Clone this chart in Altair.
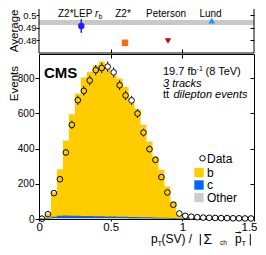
import altair as alt
import numpy as np
import pandas as pd

FONT = "Liberation Sans"

# ---------------- data ----------------
N_BINS = 36
X_MAX = 1.5

data_counts = [2, 27, 147, 226, 378, 535, 675, 728, 787, 846, 858, 866,
               833, 760, 702, 674, 599, 491, 397, 336, 238, 151, 81, 31,
               18, 13, 10, 8, 7, 6, 5, 5, 4, 4, 3, 3]
mc_b = [2, 24, 139, 265, 426, 576, 695, 787, 819, 858, 880, 836,
        801, 785, 738, 649, 614, 525, 430, 347, 273, 178, 95, 23,
        9, 5, 4, 3, 2, 2, 1, 1, 2, 1, 1, 1]
mc_c = [1, 3, 8, 12, 14, 13, 12, 11, 11, 10, 10, 9,
        9, 8, 8, 7, 7, 6, 6, 5, 4, 4, 3, 2,
        1, 1, 1, 1, 1, 1, 1, 1, 0, 0, 0, 0]
mc_other = [2, 3, 5, 6, 6, 6, 6, 6, 6, 6, 5, 5,
            5, 5, 5, 4, 4, 4, 4, 3, 3, 3, 2, 2,
            2, 2, 1, 1, 1, 1, 1, 1, 1, 1, 1, 1]

models = ["Z2*LEP r_b", "Z2*", "Peterson", "Lund"]
model_x = [0.59, 1.2, 1.8, 2.41]
model_avg = [0.4912, 0.4778, 0.4792, 0.4955]
model_err = [0.0055, 0.0, 0.0, 0.0]
model_colors = ["#1f1fff", "#ff6a0d", "#d00000", "#1e90ff"]
model_shapes = ["circle", "square", "triangle-down", "triangle-up"]
data_avg_band = [0.492, 0.496]

main_y_ticks = [0, 200, 400, 600, 800]
main_x_ticks = [0, 0.5, 1, 1.5]
top_y_ticks = [0.48, 0.49, 0.5]

YELLOW = "#ffcc00"
CBLUE = "#0066ff"
GRAY = "#cccccc"

W = 215
H_TOP = 44
H_MAIN = 165

# ---------------- derived tables ----------------
bw = X_MAX / N_BINS
edges = [i * bw for i in range(N_BINS + 1)]
centers = [(i + 0.5) * bw for i in range(N_BINS)]
o = np.array(mc_other, float)
co = o + np.array(mc_c, float)
tot = co + np.array(mc_b, float)
hist = pd.DataFrame({
    "x": edges,
    "o": list(o) + [o[-1]],
    "co": list(co) + [co[-1]],
    "tot": list(tot) + [tot[-1]],
})

n = np.array(data_counts, float)
err = np.sqrt(n)
R = 17.0  # marker radius expressed in events (keeps error bars outside circle)
pts = pd.DataFrame({"x": centers, "n": n, "above": n > tot})
up = pd.DataFrame({"x": centers, "lo": n + R, "hi": n + err, "e": err})
dn = pd.DataFrame({"x": centers, "lo": n - err, "hi": n - R, "e": err})
ebars = pd.concat([up, dn])
ebars = ebars[ebars["e"] > R]

top_df = pd.DataFrame({"model": models, "x": model_x, "y": model_avg,
                       "lo": np.array(model_avg) - np.array(model_err),
                       "hi": np.array(model_avg) + np.array(model_err),
                       "err": model_err})
band_df = pd.DataFrame({"lo": [data_avg_band[0]], "hi": [data_avg_band[1]]})

# ---------------- scales ----------------
xs = alt.Scale(domain=[0, X_MAX], nice=False, zero=False)
ys = alt.Scale(domain=[0, 937.5], nice=False)
xt = alt.Scale(domain=[0, 3], nice=False, zero=False)
yt = alt.Scale(domain=[0.4696, 0.5048], nice=False, zero=False)

one = pd.DataFrame({"a": [0]})


def txt(s, x, y, size, weight="normal", style="normal", align="left"):
    return alt.Chart(pd.DataFrame({"t": [s]})).mark_text(
        align=align, baseline="alphabetic", fontSize=size, fontWeight=weight,
        fontStyle=style, font=FONT, color="black"
    ).encode(x=alt.value(x), y=alt.value(y), text="t:N")


def vrule(x, y1, y2, w=1):
    return alt.Chart(one).mark_rule(color="black", strokeWidth=w).encode(
        x=alt.value(x), y=alt.value(y1), y2=alt.value(y2))


def hrule(y, x1, x2, w=1):
    return alt.Chart(one).mark_rule(color="black", strokeWidth=w).encode(
        y=alt.value(y), x=alt.value(x1), x2=alt.value(x2))


TITLE_KW = dict(titleAnchor="end", titleFontSize=11.5, titleFontWeight="normal",
                titleBaseline="alphabetic", titleX=-22)

# ---------------- top panel ----------------
ax_tl = alt.Axis(orient="left", values=top_y_ticks, format=".2~f", tickSize=3,
                 labelPadding=0, labelFontSize=9.5, domain=False, grid=False,
                 labelFlush=False, labelOverlap=False, title="Average", **TITLE_KW)
ax_tr = alt.Axis(orient="right", values=top_y_ticks, offset=-4, tickSize=4,
                 labels=False, domain=False, grid=False, title=None)
ax_tb = alt.Axis(orient="bottom", values=[1, 2], offset=-4, tickSize=4,
                 labels=False, domain=False, grid=False, title=None)

band = alt.Chart(band_df).mark_rect(color="#c8c8c8").encode(
    x=alt.value(0), x2=alt.value(W),
    y=alt.Y("lo:Q", scale=yt, axis=ax_tl), y2="hi:Q")
top_err = alt.Chart(top_df).transform_filter("datum.err > 0").mark_rule(
    color=model_colors[0], strokeWidth=1.5).encode(
    x=alt.X("x:Q", scale=xt, axis=None), y=alt.Y("lo:Q", scale=yt, axis=None), y2="hi:Q")
top_pts = alt.Chart(top_df).mark_point(filled=True, opacity=1, size=42).encode(
    x=alt.X("x:Q", scale=xt, axis=ax_tb),
    y=alt.Y("y:Q", scale=yt, axis=ax_tr),
    shape=alt.Shape("model:N", scale=alt.Scale(domain=models, range=model_shapes), legend=None),
    color=alt.Color("model:N", scale=alt.Scale(domain=models, range=model_colors), legend=None))

top = alt.layer(
    band, top_err, top_pts,
    txt("Z2*LEP", 19, 8, 10), txt("r", 56, 8, 10, style="italic"), txt("b", 59.5, 10, 7),
    txt("Z2*", 84, 8, 10, align="center"),
    txt("Peterson", 127, 8, 10, align="center"),
    txt("Lund", 171.5, 8, 10, align="center"),
    vrule(0, 0, H_TOP), vrule(W, 0, H_TOP), hrule(H_TOP, 0, W),
).resolve_axis(y="independent", x="independent").properties(
    width=W, height=H_TOP, view=alt.ViewBackground(stroke="transparent"))

# ---------------- main panel ----------------
ax_ml = alt.Axis(orient="left", values=main_y_ticks, tickSize=4, labelPadding=1,
                 labelFontSize=10, domain=False, grid=False,
                 labelFlush=False, labelOverlap=False,
                 title="Events", titleY=11.5, **TITLE_KW)
ax_mb = alt.Axis(orient="bottom", values=main_x_ticks, format="~g", tickSize=2,
                 labelPadding=0, labelFontSize=11.5, domain=False, grid=False,
                 title=None, labelFlush=True, labelFlushOffset=3, labelOverlap=False)
ax_mr = alt.Axis(orient="right", values=main_y_ticks[1:], offset=-4, tickSize=4,
                 labels=False, domain=False, grid=False, title=None)
ax_mt = alt.Axis(orient="top", values=[0.5, 1.0], offset=-4, tickSize=4,
                 labels=False, domain=False, grid=False, title=None)

yellow = alt.Chart(hist).mark_area(interpolate="step-after", color=YELLOW).encode(
    x=alt.X("x:Q", scale=xs, axis=ax_mb), y=alt.Y("tot:Q", scale=ys, axis=ax_ml))
blue = alt.Chart(hist).mark_area(interpolate="step-after", color=CBLUE).encode(
    x=alt.X("x:Q", scale=xs, axis=None), y=alt.Y("co:Q", scale=ys, axis=None))
gray = alt.Chart(hist).mark_area(interpolate="step-after", color=GRAY).encode(
    x=alt.X("x:Q", scale=xs, axis=ax_mt), y=alt.Y("o:Q", scale=ys, axis=ax_mr))

err_rules = alt.Chart(ebars).mark_rule(color="black", strokeWidth=1).encode(
    x=alt.X("x:Q", scale=xs, axis=None), y=alt.Y("lo:Q", scale=ys, axis=None), y2="hi:Q")
circles = alt.Chart(pts).mark_point(shape="circle", filled=True, stroke="black",
                                    strokeWidth=1, size=32, opacity=1).encode(
    x=alt.X("x:Q", scale=xs, axis=None), y=alt.Y("n:Q", scale=ys, axis=None),
    fill=alt.condition(alt.datum.above, alt.value("white"), alt.value("transparent")))

leg_circle = alt.Chart(one).mark_point(shape="circle", filled=False, color="black",
                                       strokeWidth=1, size=30, opacity=1).encode(
    x=alt.value(163.5), y=alt.value(104.3))
leg_boxes = [
    alt.Chart(one).mark_square(color=c, size=88, opacity=1).encode(
        x=alt.value(160), y=alt.value(yy))
    for c, yy in [(YELLOW, 118.5), (CBLUE, 131), (GRAY, 143.5)]
]
arrow_head = alt.Chart(one).mark_point(shape="triangle-right", filled=True, color="black",
                                       size=7, opacity=1).encode(
    x=alt.value(201.5), y=alt.value(178.5))

main = alt.layer(
    yellow, blue, gray, err_rules, circles,
    txt("CMS", 5, 24, 15, weight="bold"),
    txt("19.7 fb", 124, 20.5, 11), txt("-1", 157.6, 16.5, 7), txt("(8 TeV)", 166.5, 20.5, 11),
    txt("3 tracks", 124, 33, 11, style="italic"),
    txt("tt", 124, 44, 11), hrule(34.5, 127.3, 130.5),
    txt("dilepton events", 134.5, 44, 11, style="italic"),
    leg_circle, *leg_boxes,
    txt("Data", 168, 108.5, 12), txt("b", 168, 122.5, 12), txt("c", 168, 135, 12),
    txt("Other", 168, 147.5, 12),
    # x-axis title pieces
    txt("p", 112, 188.5, 12), txt("T", 118.5, 191.5, 7.5), txt("(SV) /", 122.5, 188.5, 12),
    vrule(161.3, 180, 191.5),
    txt("\u03a3", 164.5, 189.5, 14), txt("ch", 181, 191, 6.5),
    txt("p", 196, 188.5, 12), hrule(178.5, 196.5, 200.5), arrow_head,
    txt("T", 202.5, 191.5, 7.5),
    vrule(211.3, 180, 191.5),
).resolve_axis(y="independent", x="independent").properties(
    width=W, height=H_MAIN, view=alt.ViewBackground(stroke="black", strokeWidth=1))

chart = alt.vconcat(top, main, spacing=1, bounds="flush").properties(
    padding={"left": -1, "top": 0, "right": 0, "bottom": 0}
).configure_axis(
    labelFont=FONT, titleFont=FONT, labelColor="black", tickColor="black",
    titleColor="black", tickWidth=1
).configure_view(stroke="black")

chart.save("out.html", embed_options={"renderer": "svg", "actions": False})
